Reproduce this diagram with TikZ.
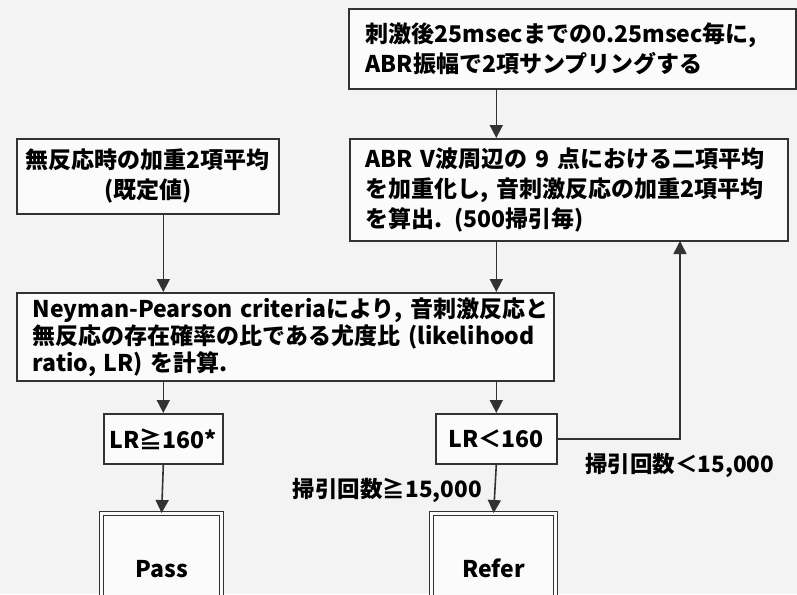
\documentclass[tikz,border=0pt]{standalone}
\usepackage{fontspec}
\setmainfont{Noto Sans CJK JP}
\usetikzlibrary{arrows.meta}
\definecolor{lc}{RGB}{50,50,50}
\definecolor{bgc}{RGB}{243,243,243}
\definecolor{boxc}{RGB}{251,251,251}
\begin{document}
\begin{tikzpicture}[x=1pt,y=-1pt,
  box/.style={draw=lc, line width=1.6pt, fill=boxc, inner sep=0pt, font=\fontsize{23}{30}\selectfont\bfseries},
  dbox/.style={box, double=boxc, double distance=3pt, line width=1.3pt},
  arr/.style={-{Triangle[width=13pt,length=13pt]}, draw=lc, line width=1.6pt},
  lbl/.style={font=\fontsize{22.5}{29}\selectfont\bfseries, inner sep=0pt}]
\clip (0,0) rectangle (797,594);
\fill[bgc] (0,0) rectangle (797,594);
\node[box, anchor=north west, minimum width=447, minimum height=80, text width=413, inner xsep=17, align=left] (top) at (348,8)
  {\mbox{刺激後25msecまでの0.25msec毎に,}\\\mbox{ABR振幅で2項サンプリングする}};
\node[box, anchor=north west, minimum width=262, minimum height=75, align=center] (noresp) at (16,138)
  {無反応時の加重2項平均\\(既定値)};
\node[box, anchor=north west, minimum width=438, minimum height=102, text width=406, inner xsep=16, align=left] (abr) at (349,138)
  {\mbox{ABR V波周辺の 9 点における二項平均}\\\mbox{を加重化し, 音刺激反応の加重2項平均}\\\mbox{を算出. (500掃引毎)}};
\node[box, anchor=north west, minimum width=537, minimum height=88, text width=505, inner xsep=16, align=left, font=\fontsize{23}{27}\selectfont\bfseries] (np) at (16,292)
  {\mbox{Neyman-Pearson criteriaにより, 音刺激反応と}\\\mbox{無反応の存在確率の比である尤度比 (likelihood}\\\mbox{ratio, LR) を計算.}};
\node[box, anchor=north west, minimum width=119, minimum height=50] (lr1) at (103,413) {LR≧160*};
\node[box, anchor=north west, minimum width=121, minimum height=50] (lr2) at (435,413) {LR＜160};
\node[dbox, anchor=north west, minimum width=120, minimum height=110] (pass) at (101,513) {Pass};
\node[dbox, anchor=north west, minimum width=124, minimum height=110] (refer) at (431,513) {Refer};
\node[lbl, anchor=east] (l1) at (482,490) {掃引回数≧15,000};
\node[lbl, anchor=west] (l2) at (585,465) {掃引回数＜15,000};
\coordinate (fb) at (680,241);
\draw[arr] (top.south -| lr2) -- (abr.north -| lr2);
\draw[arr] (noresp.south -| lr1) -- (np.north -| lr1);
\draw[arr] (abr.south -| lr2) -- (np.north -| lr2);
\draw[arr] (np.south -| lr1) -- (lr1.north);
\draw[arr] (np.south -| lr2) -- (lr2.north);
\draw[arr] (lr1.south) -- (pass.north);
\draw[arr] (lr2.south) -- (refer.north);
\draw[arr] (lr2.east) -| (fb);
\end{tikzpicture}
\end{document}
